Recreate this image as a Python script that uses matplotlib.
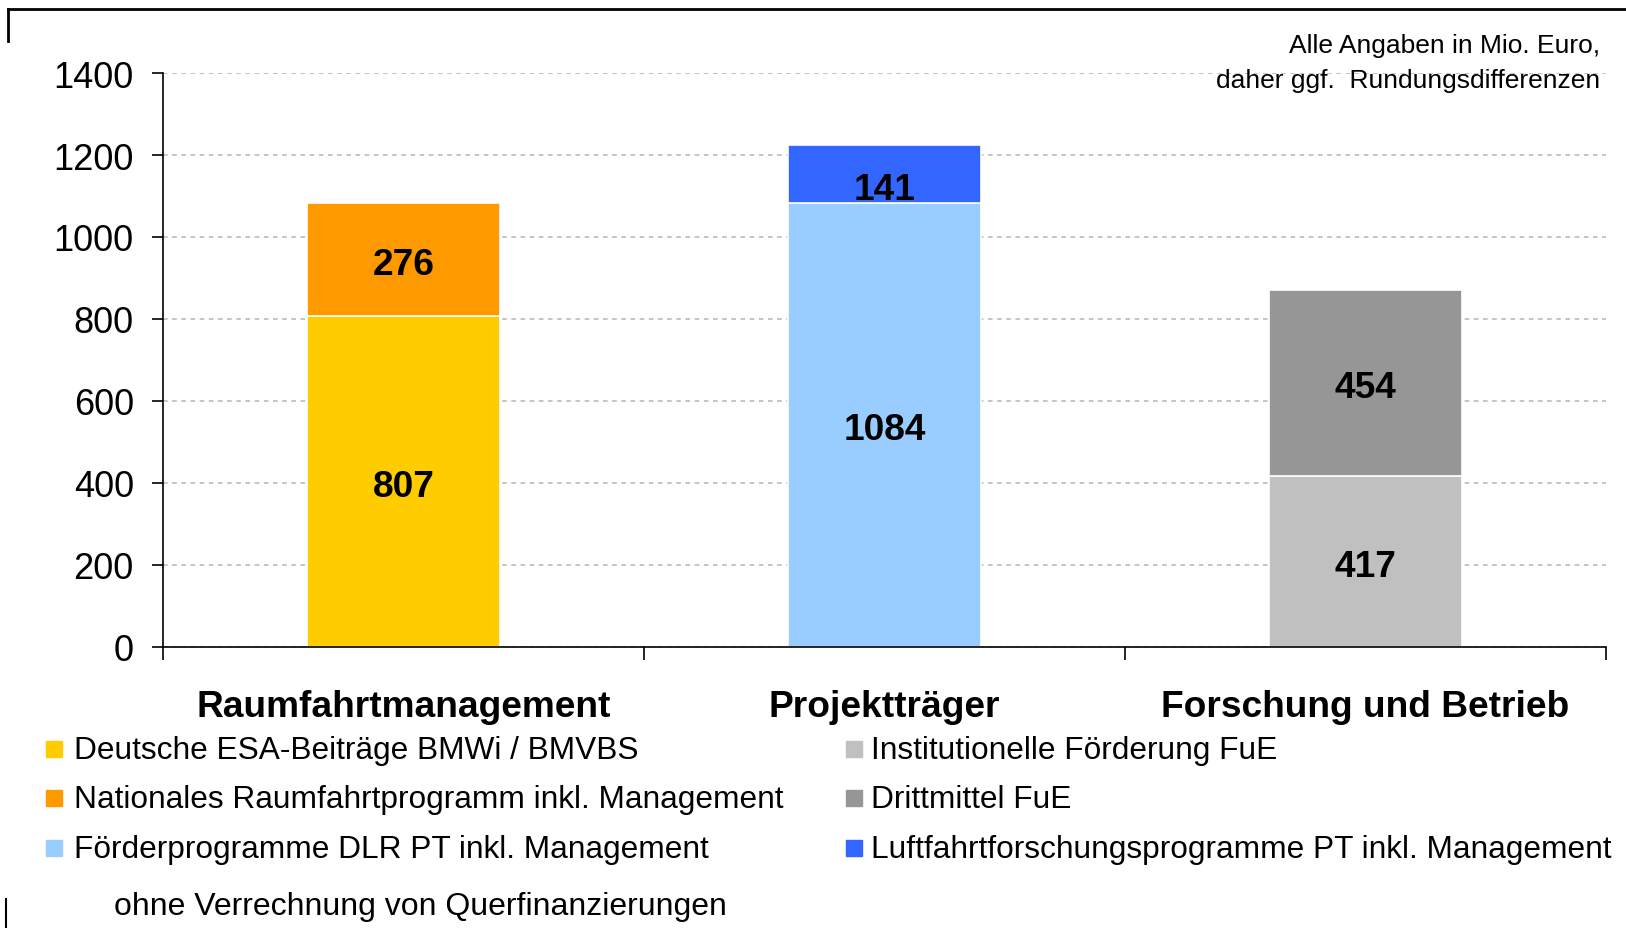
#!/usr/bin/env python3
"""
    DLR budget 2010 - stacked bars per area
"""

import matplotlib
matplotlib.use("Agg")
from matplotlib import pyplot as plt
from matplotlib.patches import Rectangle
from matplotlib.lines import Line2D

categories = ["Raumfahrtmanagement", "Projektträger", "Forschung und Betrieb"]
base_values = [807, 1084, 417]
top_values = [276, 141, 454]
base_colors = ["#FFCC00", "#99CCFF", "#C0C0C0"]
top_colors = ["#FF9900", "#3366FF", "#969696"]

legend_left = ["Deutsche ESA-Beiträge BMWi / BMVBS",
               "Nationales Raumfahrtprogramm inkl. Management",
               "Förderprogramme DLR PT inkl. Management"]
legend_left_colors = ["#FFCC00", "#FF9900", "#99CCFF"]
legend_right = ["Institutionelle Förderung FuE",
                "Drittmittel FuE",
                "Luftfahrtforschungsprogramme PT inkl. Management"]
legend_right_colors = ["#C0C0C0", "#969696", "#3366FF"]

yticks = [0, 200, 400, 600, 800, 1000, 1200, 1400]

W, H = 1626, 929
plt.rcParams["font.family"] = ["Liberation Sans", "DejaVu Sans"]


def main() -> int:
    fig = plt.figure(figsize=(W / 100, H / 100), dpi=100)
    ax = fig.add_axes([163 / W, 1 - 648 / H, 1443 / W, (648 - 74) / H])

    x = list(range(len(categories)))
    ax.bar(x, base_values, width=0.4, color=base_colors, edgecolor="white",
           linewidth=1.2, zorder=2)
    ax.bar(x, top_values, width=0.4, bottom=base_values, color=top_colors,
           edgecolor="white", linewidth=1.2, zorder=2)

    for i in x:
        ax.annotate(str(base_values[i]), (i, base_values[i] / 2),
                    xytext=(0, -5), textcoords="offset pixels", ha="center",
                    va="center", fontsize=26.7, fontweight="bold", zorder=3)
        yoff = -16 if top_values[i] < 200 else -5
        ax.annotate(str(top_values[i]), (i, base_values[i] + top_values[i] / 2),
                    xytext=(0, yoff), textcoords="offset pixels", ha="center",
                    va="center", fontsize=26.7, fontweight="bold", zorder=3)

    ax.set_xlim(-0.5, 2.5)
    ax.set_ylim(0, 1400)
    ax.set_yticks(yticks)
    ax.tick_params(axis="y", labelsize=26, length=8, width=1.2, pad=13)
    ax.set_xticks(x)
    ax.set_xticklabels(categories, fontsize=26.7, fontweight="bold")
    ax.tick_params(axis="x", which="major", length=0, pad=30)
    ax.set_xticks([-0.5, 0.5, 1.5, 2.5], minor=True)
    ax.tick_params(axis="x", which="minor", length=9, width=1.2, direction="out")

    ax.grid(axis="y", linestyle=(0, (3, 3)), color="#B4B4B4", linewidth=1.1)
    ax.set_axisbelow(True)
    for s in ["top", "right"]:
        ax.spines[s].set_visible(False)
    for s in ["left", "bottom"]:
        ax.spines[s].set_linewidth(1.2)

    fig.text(1600 / W, 1 - 46 / H, "Alle Angaben in Mio. Euro,", ha="right",
             va="center", fontsize=19)
    fig.text(1600 / W, 1 - 81 / H, "daher ggf.  Rundungsdifferenzen", ha="right",
             va="center", fontsize=19)

    # legend, two columns drawn by hand
    rows_y = [751, 800, 850]
    for labels, colors, mx, tx in [(legend_left, legend_left_colors, 46, 74),
                                   (legend_right, legend_right_colors, 846, 871)]:
        for lab, col, ry in zip(labels, colors, rows_y):
            fig.patches.append(Rectangle((mx / W, 1 - (ry + 7) / H), 16 / W, 16 / H,
                                         transform=fig.transFigure, color=col))
            fig.text(tx / W, 1 - ry / H, lab, ha="left", va="center", fontsize=22.8)

    fig.text(114 / W, 1 - 907 / H, "ohne Verrechnung von Querfinanzierungen",
             ha="left", va="center", fontsize=23)

    # frame fragments
    fig.add_artist(Line2D([8 / W, 1], [1 - 10 / H, 1 - 10 / H], color="black", lw=2,
                          transform=fig.transFigure))
    fig.add_artist(Line2D([8 / W, 8 / W], [1 - 10 / H, 1 - 42 / H], color="black",
                          lw=2, transform=fig.transFigure))
    fig.add_artist(Line2D([6 / W, 6 / W], [1 - 900 / H, 0], color="black", lw=1.5,
                          transform=fig.transFigure))

    fig.savefig("out.png", dpi=100)
    plt.close(fig)
    return 0


if __name__ == "__main__":
    raise SystemExit(main())
